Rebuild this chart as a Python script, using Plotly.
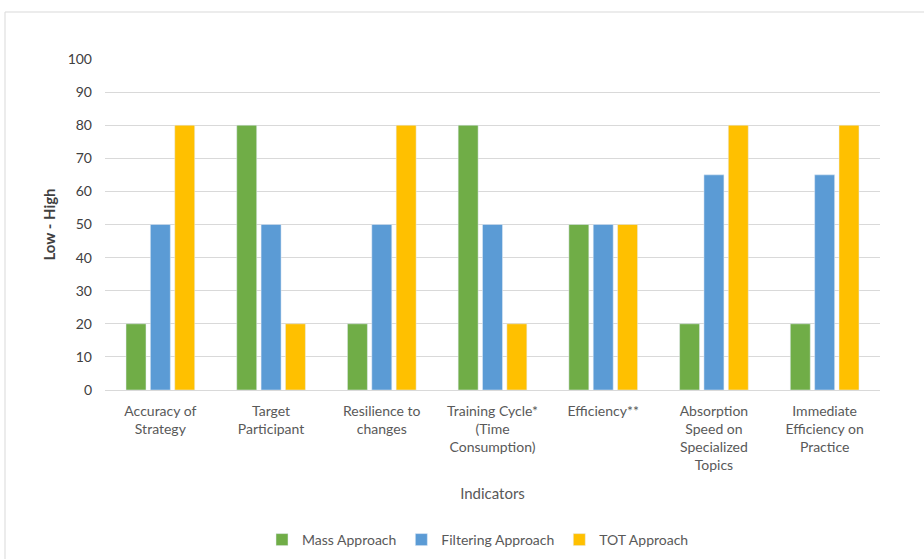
import plotly.graph_objects as go

categories = ["Accuracy of<br>Strategy", "Target<br>Participant", "Resilience to<br>changes",
              "Training Cycle*<br>(Time<br>Consumption)", "Efficiency**",
              "Absorption<br>Speed on<br>Specialized<br>Topics",
              "Immediate<br>Efficiency on<br>Practice"]
mass = [20, 80, 20, 80, 50, 20, 20]
filtering = [50, 50, 50, 50, 50, 65, 65]
tot = [80, 20, 80, 20, 50, 80, 80]
y_ticks = list(range(0, 101, 10))

FONT = "Lato, 'Open Sans', sans-serif"
TXT = "#595959"

fig = go.Figure()
fig.add_trace(go.Bar(x=categories, y=mass, name="Mass Approach", marker_color="#70AD47"))
fig.add_trace(go.Bar(x=categories, y=filtering, name="Filtering Approach", marker_color="#5B9BD5"))
fig.add_trace(go.Bar(x=categories, y=tot, name="TOT Approach", marker_color="#FFC000"))

L, R, T, B = 105, 44, 59, 169
W, H = 924, 559
pw, ph = W - L - R, H - T - B

def px(x):
    return (x - L) / pw

def py(y):
    return (H - B - y) / ph

fig.update_layout(
    width=W, height=H,
    margin=dict(l=L, r=R, t=T, b=B, autoexpand=False),
    paper_bgcolor="white", plot_bgcolor="white",
    font=dict(family=FONT, size=13, color=TXT),
    barmode="group", bargap=0.34, bargroupgap=0.18,
    showlegend=True,
    legend=dict(orientation="h", x=px(478), xanchor="center", y=py(540), yanchor="middle",
                font=dict(size=14, color=TXT), itemwidth=30, traceorder="normal"),
    xaxis=dict(showgrid=False, showline=True, linecolor="#D9D9D9", linewidth=1,
               ticks="", tickfont=dict(size=14, color=TXT), tickangle=0, ticklabelstandoff=8,
               title=dict(text="Indicators", font=dict(size=15, color=TXT), standoff=16),
               automargin=False),
    yaxis=dict(range=[0, 100], tickvals=y_ticks, showgrid=True, gridcolor="#D9D9D9",
               gridwidth=1, zeroline=False, ticks="", showline=False,
               tickfont=dict(size=14, color="#404040"), ticklabelstandoff=12,
               title=dict(text="<b>Low - High</b>", font=dict(size=15, color="#404040"), standoff=8),
               automargin=False),
)

fig.add_shape(type="rect", xref="paper", yref="paper",
              x0=px(5), x1=px(930), y0=py(565), y1=py(12),
              line=dict(color="#D9D9D9", width=1), fillcolor="rgba(0,0,0,0)", layer="below")

fig.write_html("out.html")
